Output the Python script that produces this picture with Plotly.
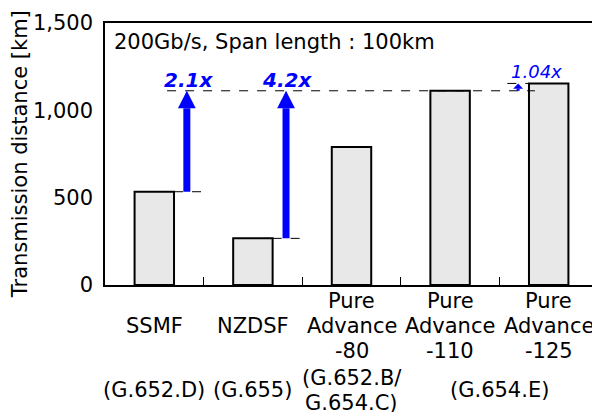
import plotly.graph_objects as go

categories = ["SSMF", "NZDSF", "Pure<br>Advance<br>-80", "Pure<br>Advance<br>-110", "Pure<br>Advance<br>-125"]
distance_km = [534, 267, 790, 1112, 1154]
standards = ["(G.652.D)", "(G.655)", "(G.652.B/<br>G.654.C)", "(G.654.E)"]
standard_groups = [[0], [1], [2], [3, 4]]
gain_labels = ["2.1x", "4.2x", "1.04x"]
gain_from = [0, 1, 3]      # index of bar the arrow starts from
gain_to = [3, 3, 4]        # index of bar the arrow reaches
y_ticks = [0, 500, 1000, 1500]
title_text = "200Gb/s, Span length : 100km"
y_title = "Transmission distance [km]"

FONT = "DejaVu Sans"
BLUE = "#0000ff"
x_idx = list(range(len(categories)))

# page body has an 8px margin, so the figure is shrunk and shifted accordingly
OFF = 8
# pixel geometry (window coordinates): plot area top 23, bottom 285
PLOT_TOP, PLOT_BOT = 23, 285
def py2paper(py):
    return (PLOT_BOT - py) / (PLOT_BOT - PLOT_TOP)

fig = go.Figure()
fig.add_trace(go.Bar(
    x=x_idx, y=distance_km, width=0.4,
    marker=dict(color="#e8e8e8", line=dict(color="black", width=2)),
    hoverinfo="skip",
))

shapes = []
annotations = []

# reference dashed line at top of Pure Advance-110
ref = distance_km[3]
shapes.append(dict(type="line", xref="x", yref="y", x0=0.13, x1=3.86, y0=ref, y1=ref,
                   line=dict(color="black", width=1, dash="dash")))
# short dashed lines at bar tops
for i, (x0, x1) in zip([0, 1, 4], [(0.2, 0.48), (1.2, 1.48), (3.58, 3.8)]):
    shapes.append(dict(type="line", xref="x", yref="y", x0=x0, x1=x1,
                       y0=distance_km[i], y1=distance_km[i],
                       line=dict(color="black", width=1, dash="dash")))

# arrows
arrow_x = [0.33, 1.336, 3.69]
head_h = [100, 100, 30]
head_w = [0.09, 0.09, 0.05]
shaft_w = [7, 7, 3]
label_x = [0.35, 1.35, 3.88]
label_y = [1175, 1175, 1225]
label_bold = [True, True, False]
label_size = [20, 20, 18]
for k in range(3):
    y0 = distance_km[gain_from[k]]
    y1 = distance_km[gain_to[k]]
    xa = arrow_x[k]
    base = y1 - head_h[k]
    shapes.append(dict(type="line", xref="x", yref="y", x0=xa, x1=xa, y0=y0, y1=base,
                       line=dict(color=BLUE, width=shaft_w[k])))
    shapes.append(dict(type="path", xref="x", yref="y",
                       path=f"M {xa-head_w[k]} {base} L {xa+head_w[k]} {base} L {xa} {y1} Z",
                       fillcolor=BLUE, line=dict(color=BLUE, width=0)))
    txt = gain_labels[k]
    txt = f"<b><i>{txt}</i></b>" if label_bold[k] else f"<i>{txt}</i>"
    annotations.append(dict(x=label_x[k], y=label_y[k], xref="x", yref="y", text=txt,
                            showarrow=False, font=dict(family=FONT, size=label_size[k], color=BLUE)))

# title inside plot
annotations.append(dict(x=0.014, y=py2paper(42), xref="paper", yref="paper", text=title_text,
                        xanchor="left", yanchor="middle", showarrow=False,
                        font=dict(family=FONT, size=21, color="black")))
# y-axis title
annotations.append(dict(x=-0.172, y=0.5, xref="paper", yref="paper", text=y_title,
                        textangle=-90, showarrow=False, xanchor="center", yanchor="middle",
                        font=dict(family=FONT, size=21, color="black")))

LINE = 25  # px between label lines
def add_lines(x, text, center_py):
    lines = text.split("<br>")
    n = len(lines)
    for j, ln in enumerate(lines):
        py = center_py + (j - (n - 1) / 2) * LINE
        annotations.append(dict(x=x, y=py2paper(py), xref="x", yref="paper", text=ln,
                                showarrow=False, xanchor="center", yanchor="middle",
                                font=dict(family=FONT, size=21, color="black")))

for i, c in enumerate(categories):
    add_lines(i, c, 326)
for s, g in zip(standards, standard_groups):
    add_lines(sum(g) / len(g), s, 390)

fig.update_layout(
    width=600 - OFF, height=412 - OFF,
    margin=dict(l=105 - OFF, r=2, t=23 - OFF, b=127),
    paper_bgcolor="white", plot_bgcolor="white",
    showlegend=False,
    shapes=shapes, annotations=annotations,
    xaxis=dict(range=[-0.5, 4.5], tickvals=[0.5, 1.5, 2.5, 3.5], ticktext=["", "", "", ""],
               ticks="inside", ticklen=8, tickcolor="black", showgrid=False, zeroline=False,
               showline=True, linecolor="black", linewidth=1.5, mirror=True, automargin=False),
    yaxis=dict(range=[0, 1500], tickvals=y_ticks, tickformat=",", showgrid=False, zeroline=False,
               showline=True, linecolor="black", linewidth=1.5, mirror=True, automargin=False,
               tickfont=dict(family=FONT, size=21, color="black"), ticks="", ticklabelstandoff=6),
)

fig.write_html("out.html")
